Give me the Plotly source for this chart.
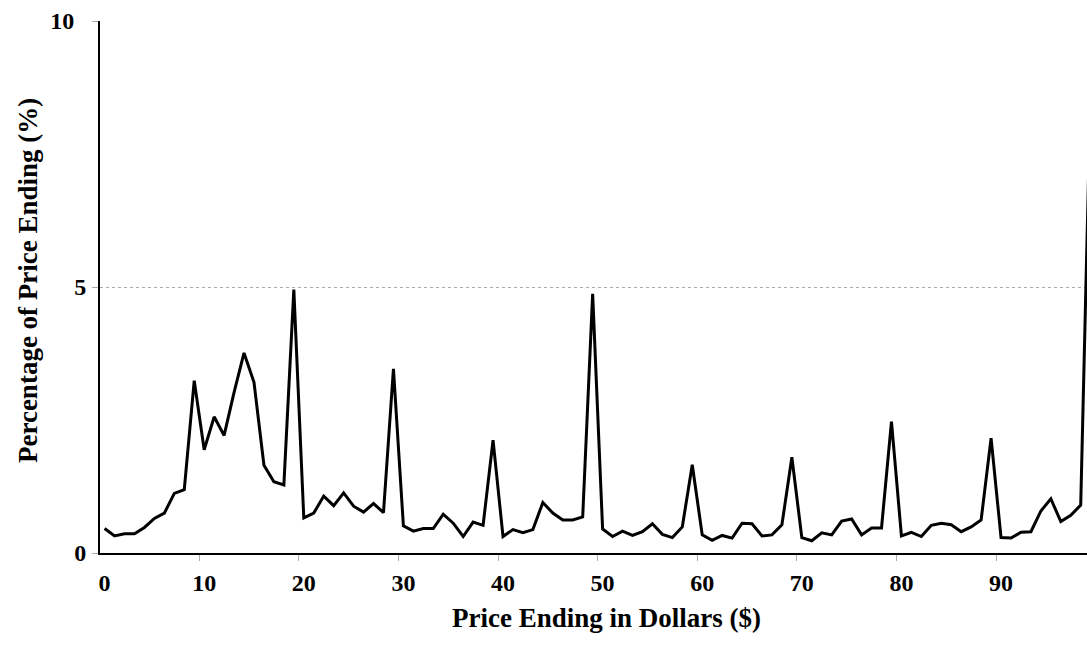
import plotly.graph_objects as go

price_endings = list(range(100))
percentages = [
    0.46, 0.32, 0.36, 0.36, 0.48, 0.65, 0.75, 1.12, 1.19, 3.24,
    1.94, 2.56, 2.21, 3.02, 3.76, 3.21, 1.65, 1.34, 1.28, 4.95,
    0.66, 0.75, 1.07, 0.89, 1.13, 0.88, 0.77, 0.93, 0.76, 3.46,
    0.51, 0.41, 0.46, 0.46, 0.73, 0.56, 0.31, 0.58, 0.52, 2.12,
    0.31, 0.44, 0.38, 0.44, 0.95, 0.75, 0.62, 0.62, 0.68, 4.87,
    0.45, 0.31, 0.41, 0.33, 0.40, 0.55, 0.35, 0.29, 0.49, 1.66,
    0.34, 0.24, 0.33, 0.28, 0.56, 0.55, 0.32, 0.34, 0.53, 1.80,
    0.29, 0.23, 0.38, 0.34, 0.60, 0.64, 0.34, 0.47, 0.47, 2.47,
    0.32, 0.39, 0.31, 0.52, 0.56, 0.53, 0.40, 0.49, 0.62, 2.16,
    0.29, 0.28, 0.39, 0.40, 0.79, 1.02, 0.59, 0.71, 0.90, 8.8,
]
x_tick_values = [0, 10, 20, 30, 40, 50, 60, 70, 80, 90]
x_tick_labels = ["0", "10", "20", "30", "40", "50", "60", "70", "80", "90"]
x_boundaries = [-0.5, 9.5, 19.5, 29.5, 39.5, 49.5, 59.5, 69.5, 79.5, 89.5]
y_tick_values = [0, 5, 10]
y_tick_labels = ["0", "5", "10\u2002"]

FONT = "Times New Roman, Liberation Serif, serif"

fig = go.Figure()
fig.add_trace(go.Scatter(
    x=price_endings, y=percentages, mode="lines",
    line=dict(color="black", width=3), showlegend=False,
))

fig.update_layout(
    width=1087, height=650,
    margin=dict(l=100, r=0, t=21, b=97),
    plot_bgcolor="white", paper_bgcolor="white",
    font=dict(family=FONT, color="black"),
    xaxis=dict(
        range=[-0.46, 98.63],
        tickmode="array", tickvals=x_tick_values, ticktext=x_tick_labels,
        ticks="", showgrid=False, zeroline=False,
        showline=True, linecolor="black", linewidth=2,
        tickfont=dict(family=FONT, size=24, weight="bold", color="black"),
        ticklabelstandoff=7,
        minor=dict(tickmode="array", tickvals=x_boundaries, ticks="outside",
                   ticklen=6, tickcolor="#aaaaaa", tickwidth=1, showgrid=False),
    ),
    yaxis=dict(
        range=[0, 10],
        tickmode="array", tickvals=y_tick_values, ticktext=y_tick_labels,
        ticks="outside", ticklen=6, tickcolor="#aaaaaa", tickwidth=1,
        showgrid=True, gridcolor="#aaaaaa", griddash="dot", gridwidth=1,
        zeroline=False,
        showline=True, linecolor="black", linewidth=2,
        tickfont=dict(family=FONT, size=24, weight="bold", color="black"),
        ticklabelstandoff=1,
    ),
    annotations=[
        dict(
            text="Price Ending in Dollars ($)", xref="paper", yref="paper",
            x=0.513, y=-0.122, xanchor="center", yanchor="middle", showarrow=False,
            font=dict(family=FONT, size=27, weight="bold", color="black"),
        ),
        dict(
            text="Percentage of Price Ending (%)", xref="paper", yref="paper",
            x=-0.0735, y=0.512, xanchor="center", yanchor="middle", showarrow=False,
            textangle=-90,
            font=dict(family=FONT, size=27, weight="bold", color="black"),
        ),
    ],
)

fig.write_html("out.html", config={"displayModeBar": False},
               post_script="document.body.style.margin='0';")
